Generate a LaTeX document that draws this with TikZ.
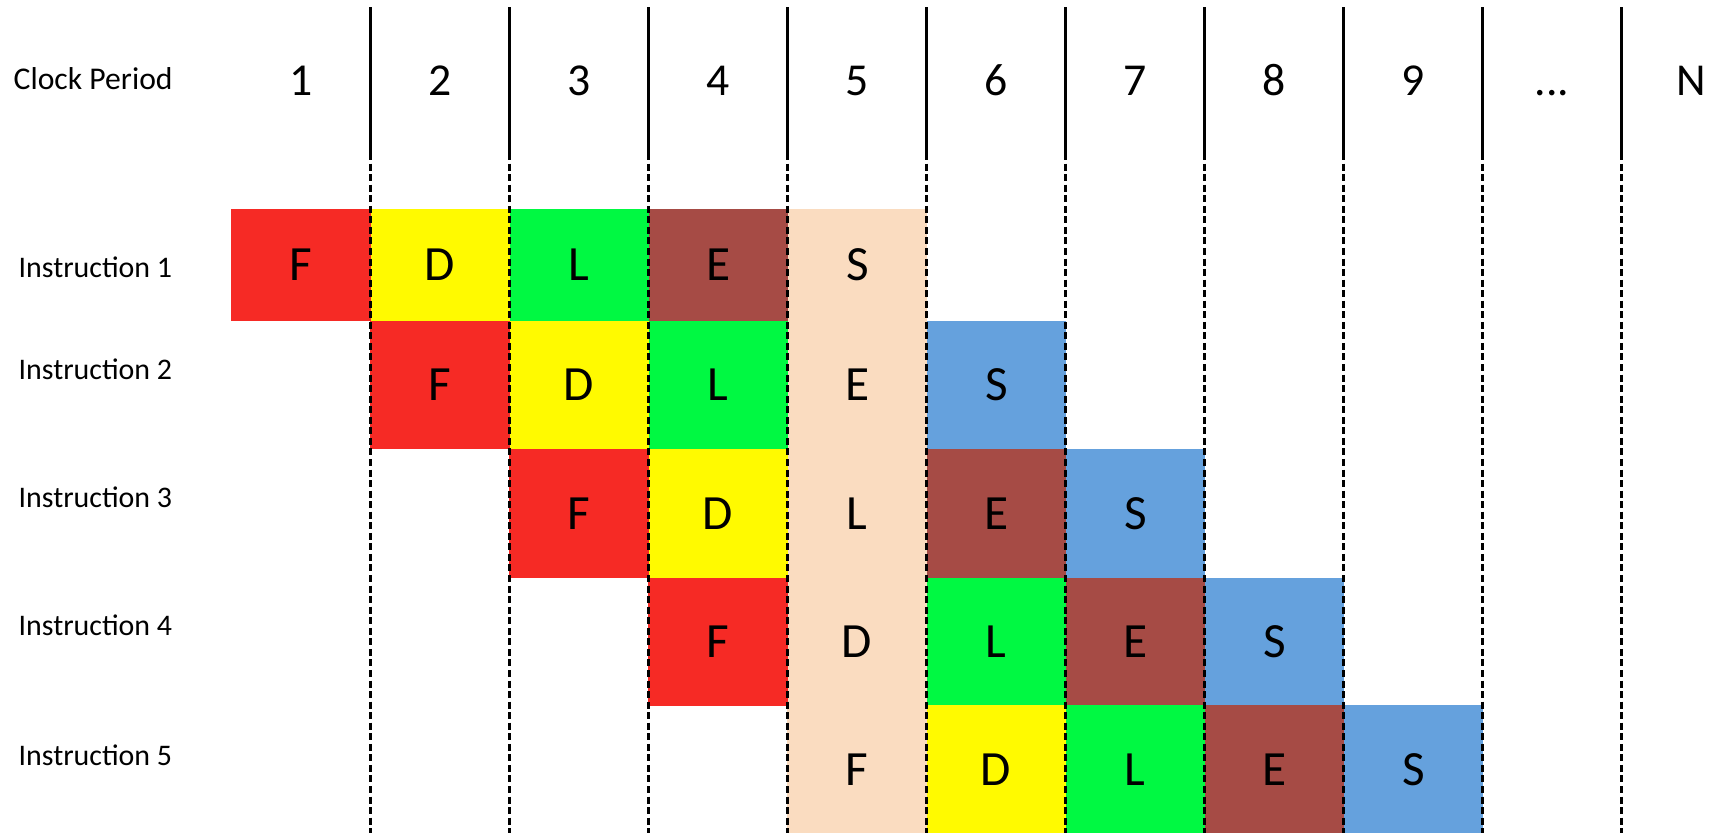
\documentclass[tikz,border=0pt]{standalone}
\usepackage{fontspec}
\setmainfont{Carlito}
\usetikzlibrary{positioning}
\definecolor{FetchRed}{HTML}{F62A25}
\definecolor{DecodeYellow}{HTML}{FFFA00}
\definecolor{LoadGreen}{HTML}{00F942}
\definecolor{ExecBrown}{HTML}{A64B45}
\definecolor{StorePeach}{HTML}{FADCC0}
\definecolor{StoreBlue}{HTML}{65A1DD}

\begin{document}
\begin{tikzpicture}[x=0.01cm, y=-0.01cm,
				stage/.style={minimum width=1.39cm, minimum height=1.28cm,
					inner sep=0pt, outer sep=0pt, font=\fontsize{14}{16}\selectfont},
				fstage/.style={stage, fill=FetchRed},
				dstage/.style={stage, fill=DecodeYellow},
				lstage/.style={stage, fill=LoadGreen},
				estage/.style={stage, fill=ExecBrown},
				sstage/.style={stage, fill=StoreBlue},
				first/.style={minimum height=1.12cm},
				clk/.style={anchor=base, font=\fontsize{13}{15}\selectfont},
				rowlabel/.style={anchor=base west, inner sep=0pt, font=\fontsize{8.5}{10}\selectfont},
				tick/.style={black, line width=0.6pt},
				]
				\useasboundingbox (0,0) rectangle (1723,833);
				% shared column of cycle 5
				\node[fill=StorePeach, minimum width=1.39cm, minimum height=6.24cm,
					inner sep=0pt] (cyc5) at (857,521) {};
				% labels
				\node[rowlabel, font=\fontsize{9}{11}\selectfont] (clock) at (13,89) {Clock Period};
				\node[rowlabel] (ins1) at (18,277) {Instruction 1};
				\node[rowlabel] (ins2) at (18,379) {Instruction 2};
				\node[rowlabel] (ins3) at (18,507) {Instruction 3};
				\node[rowlabel] (ins4) at (18,635) {Instruction 4};
				\node[rowlabel] (ins5) at (18,765) {Instruction 5};
				% clock numbers
				\foreach \k in {1,...,9}
					\node[clk] (clk\k) at ({301+139*(\k-1)},95) {\k};
				\node[clk] (clkdots) at (1552,95) {...};
				\node[clk] (clkn) at (1691,95) {N};
				% instruction 1
				\node[fstage, first] (i1f) at (301,265) {F};
				\node[dstage, first, right=0pt of i1f] (i1d) {D};
				\node[lstage, first, right=0pt of i1d] (i1l) {L};
				\node[estage, first, right=0pt of i1l] (i1e) {E};
				\node[stage, first, right=0pt of i1e] (i1s) {S};
				% instruction 2
				\node[fstage] (i2f) at (440,385) {F};
				\node[dstage, right=0pt of i2f] (i2d) {D};
				\node[lstage, right=0pt of i2d] (i2l) {L};
				\node[stage, right=0pt of i2l] (i2e) {E};
				\node[sstage, right=0pt of i2e] (i2s) {S};
				% instruction 3
				\node[fstage] (i3f) at (579,513.5) {F};
				\node[dstage, right=0pt of i3f] (i3d) {D};
				\node[stage, right=0pt of i3d] (i3l) {L};
				\node[estage, right=0pt of i3l] (i3e) {E};
				\node[sstage, right=0pt of i3e] (i3s) {S};
				% instruction 4
				\node[fstage] (i4f) at (718,642) {F};
				\node[stage, right=0pt of i4f] (i4d) {D};
				\node[lstage, right=0pt of i4d] (i4l) {L};
				\node[estage, right=0pt of i4l] (i4e) {E};
				\node[sstage, right=0pt of i4e] (i4s) {S};
				% instruction 5
				\node[stage] (i5f) at (857,769.5) {F};
				\node[dstage, right=0pt of i5f] (i5d) {D};
				\node[lstage, right=0pt of i5d] (i5l) {L};
				\node[estage, right=0pt of i5l] (i5e) {E};
				\node[sstage, right=0pt of i5e] (i5s) {S};
				% cycle boundaries
				\foreach \k in {0,...,9} {
					\draw[tick] ({370.5+139*\k},7) -- ({370.5+139*\k},153);
					\draw[tick, dash pattern=on 2pt off 1pt] ({370.5+139*\k},153) -- ({370.5+139*\k},833);
				}
			\end{tikzpicture}
\end{document}
